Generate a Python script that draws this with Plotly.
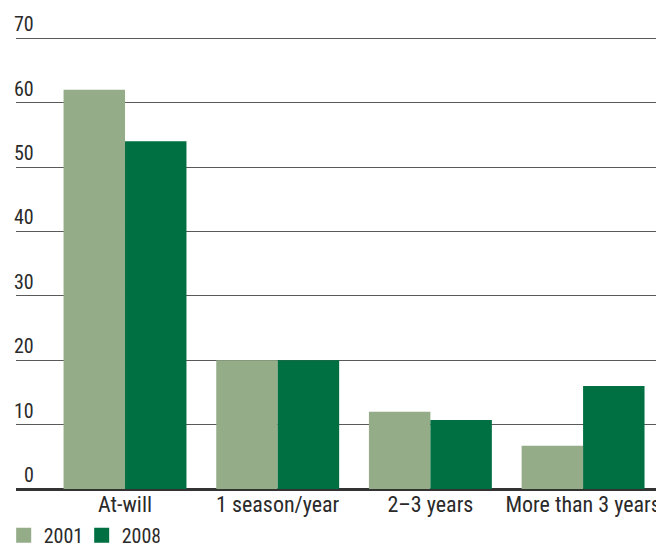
import plotly.graph_objects as go

categories = ["At-will", "1 season/year", "2\u20133 years", "More than 3 years"]
values_2001 = [62, 20, 12, 6.7]
values_2008 = [54, 20, 10.7, 16]
series_names = ["2001", "2008"]
y_ticks = [0, 10, 20, 30, 40, 50, 60, 70]

FONT = "Liberation Sans Narrow, Roboto Condensed, Liberation Sans, Arial, sans-serif"
TXT = "#2a2a2a"
colors = ["#95ac89", "#006f41"]

xpos = list(range(len(categories)))

fig = go.Figure()
for name, vals, col in zip(series_names, [values_2001, values_2008], colors):
    fig.add_trace(go.Bar(x=xpos, y=vals, name=name, legendgroup=name, showlegend=False,
                         marker=dict(color=col, line=dict(width=0))))
# legend entries with larger square swatches
for name, col in zip(series_names, colors):
    fig.add_trace(go.Scatter(x=[None], y=[None], mode="markers", name=name, legendgroup=name,
                             marker=dict(symbol="square", size=15, color=col, line=dict(width=0))))

# page body keeps an 8px margin
W, H = 656, 540
ml, mr, mt, mb = 8, 0, 27, 59
pw = W - ml - mr

annotations = []
for t in y_ticks:
    annotations.append(dict(
        x=(28 - ml) / pw, xref="paper", y=t, yref="y",
        text=str(t), showarrow=False, xanchor="right", yanchor="bottom",
        yshift=0, font=dict(family=FONT, size=20, color=TXT),
    ))

fig.update_layout(
    width=W, height=H,
    margin=dict(l=ml, r=mr, t=mt, b=mb, autoexpand=False),
    paper_bgcolor="white", plot_bgcolor="white",
    barmode="group", bargap=0.195, bargroupgap=0,
    showlegend=True,
    legend=dict(orientation="h", x=-0.019, xanchor="left", y=-0.102, yanchor="middle",
                font=dict(family=FONT, size=20, color=TXT),
                entrywidth=33, entrywidthmode="pixels",
                tracegroupgap=0, traceorder="normal", itemclick=False),
    annotations=annotations,
    font=dict(family=FONT, color=TXT),
)
fig.update_xaxes(
    tickmode="array", tickvals=xpos, ticktext=categories,
    range=[-0.714, 3.53], showgrid=False, zeroline=False,
    showline=False, ticks="", tickfont=dict(family=FONT, size=22, color=TXT),
)
fig.update_yaxes(
    range=[0, 70.5], tickvals=y_ticks, showticklabels=False,
    showgrid=True, gridcolor="#5a5a5a", gridwidth=1.3,
    zeroline=True, zerolinecolor="#333333", zerolinewidth=3,
    showline=False, ticks="",
)
fig.write_html("out.html")
